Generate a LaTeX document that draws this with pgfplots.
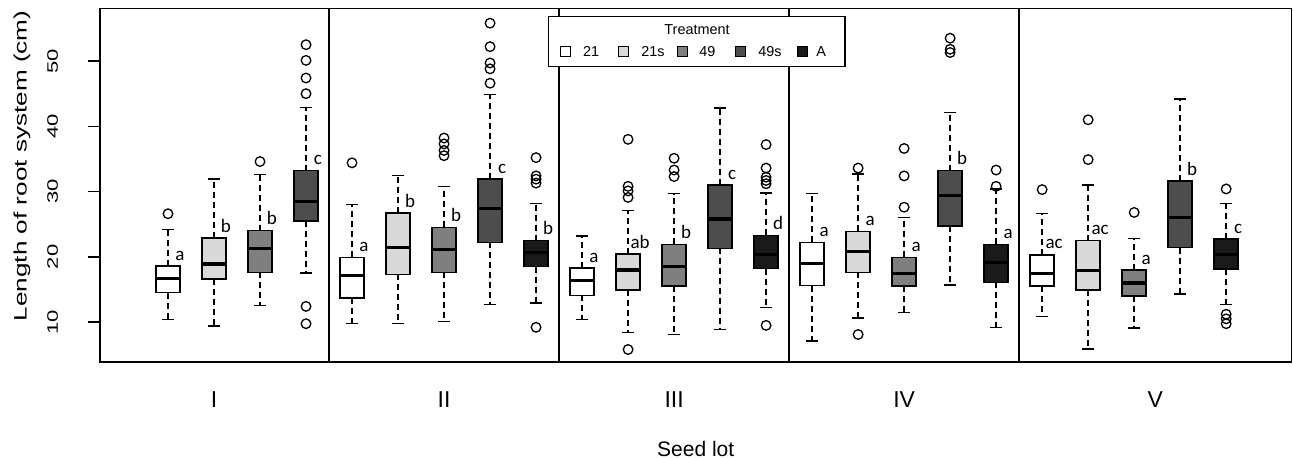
\documentclass[border=0pt]{standalone}
\usepackage{fontspec}
\setmainfont{Liberation Sans}
\newfontfamily\tickfont[FakeStretch=1.45]{Liberation Sans}
\newfontfamily\labfont[FakeStretch=1.45]{Liberation Sans}
\newfontfamily\letfont{Carlito}
\usepackage{pgfplots}
\pgfplotsset{compat=1.18}
\usepgfplotslibrary{statistics}

\definecolor{g21}{HTML}{FFFFFF}
\definecolor{g21s}{HTML}{D9D9D9}
\definecolor{g49}{HTML}{7F7F7F}
\definecolor{g49s}{HTML}{4D4D4D}
\definecolor{gA}{HTML}{1A1A1A}

\pgfplotsset{
  rbox/.style={
    draw=black, line width=0.75pt, solid,
    mark=o, mark size=2.4pt,
    mark options={draw=black, fill=none, line width=0.65pt, solid},
    boxplot/draw direction=y,
    boxplot/box extend=0.52,
    boxplot/whisker extend=0.25,
    boxplot/every median/.style={line width=1.7pt},
    boxplot/every whisker/.style={line width=0.7pt},
  },
  boxplot/draw/lower whisker/.code={
    \draw[/pgfplots/boxplot/every whisker/.try, dash pattern=on 3pt off 2pt]
      (boxplot box cs:\pgfplotsboxplotvalue{lower quartile},0.5) --
      (boxplot box cs:\pgfplotsboxplotvalue{lower whisker},0.5);
    \draw[/pgfplots/boxplot/every whisker/.try]
      (boxplot whisker cs:\pgfplotsboxplotvalue{lower whisker},0) --
      (boxplot whisker cs:\pgfplotsboxplotvalue{lower whisker},1);
  },
  boxplot/draw/upper whisker/.code={
    \draw[/pgfplots/boxplot/every whisker/.try, dash pattern=on 3pt off 2pt]
      (boxplot box cs:\pgfplotsboxplotvalue{upper quartile},0.5) --
      (boxplot box cs:\pgfplotsboxplotvalue{upper whisker},0.5);
    \draw[/pgfplots/boxplot/every whisker/.try]
      (boxplot whisker cs:\pgfplotsboxplotvalue{upper whisker},0) --
      (boxplot whisker cs:\pgfplotsboxplotvalue{upper whisker},1);
  },
}

% position, fill, lower whisker, Q1, median, Q3, upper whisker, outliers
\newcommand{\rbox}[8]{%
  \addplot[rbox, fill=#2, boxplot prepared={draw position=#1,
    lower whisker=#3, lower quartile=#4, median=#5,
    upper quartile=#6, upper whisker=#7}] coordinates {#8};
}
% group letter
\newcommand{\grp}[3]{%
  \node[font=\letfont\fontsize{9.5}{10}\selectfont, anchor=base, inner sep=0pt]
    at (axis cs:#1,#2) {#3};
}

\begin{document}
\begin{tikzpicture}
\useasboundingbox (0,0) rectangle (646.5pt,229.5pt);
\begin{axis}[
  at={(50pt,48.35pt)}, anchor=south west,
  scale only axis, width=595.75pt, height=176.9pt,
  xmin=-0.478, xmax=25.42, ymin=3.84, ymax=58.05,
  clip=false,
  axis line style={line width=0.8pt},
  xtick={2,7,12,17,22.46}, xticklabels={I,II,III,IV,V},
  ytick={10,20,30,40,50},
  tick pos=left,
  tick align=outside,
  major tick length=6pt,
  xtick style={draw=none},
  ytick style={line width=0.7pt, black},
  /pgf/number format/assume math mode=true,
  xticklabel style={font=\fontsize{11.5}{12}\selectfont, anchor=base, inner sep=0pt},
  xticklabel shift=16.85pt,
  yticklabel style={font=\tickfont\fontsize{7.6}{8}\selectfont, rotate=90, anchor=base, inner sep=0pt},
  yticklabel shift=15pt,
  xlabel={Seed lot},
  ylabel={Length of root system (cm)},
  xlabel style={font=\fontsize{10.5}{12}\selectfont, at={(axis description cs:0.5,0)},
    anchor=base, yshift=-46.9pt, inner sep=0pt},
  ylabel style={font=\labfont\fontsize{9}{10}\selectfont, at={(axis description cs:-0.0655,0.555)},
    anchor=center, inner sep=0pt},
]
% panel separators
\draw[line width=0.8pt] (axis cs:4.5,3.84) -- (axis cs:4.5,58.05);
\draw[line width=0.8pt] (axis cs:9.5,3.84) -- (axis cs:9.5,58.05);
\draw[line width=0.8pt] (axis cs:14.5,3.84) -- (axis cs:14.5,58.05);
\draw[line width=0.8pt] (axis cs:19.5,3.84) -- (axis cs:19.5,58.05);

% I
\rbox{1}{g21}{10.4}{14.5}{16.7}{18.6}{24.2}{(0,26.6)}
\rbox{2}{g21s}{9.4}{16.6}{18.9}{22.9}{31.9}{}
\rbox{3}{g49}{12.5}{17.6}{21.3}{24.0}{32.6}{(0,34.6)}
\rbox{4}{g49s}{17.5}{25.5}{28.5}{33.2}{42.9}{(0,52.5) (0,50.1) (0,47.4) (0,45.0) (0,12.4) (0,9.75)}
% II
\rbox{5}{g21}{9.75}{13.7}{17.1}{19.9}{28.0}{(0,34.4)}
\rbox{6}{g21s}{9.8}{17.3}{21.4}{26.7}{32.5}{}
\rbox{7}{g49}{10.05}{17.6}{21.1}{24.5}{30.8}{(0,38.2) (0,37.3) (0,36.3) (0,35.5)}
\rbox{8}{g49s}{12.7}{22.2}{27.4}{31.9}{44.9}{(0,55.8) (0,52.2) (0,49.7) (0,48.8) (0,46.6)}
\rbox{9}{gA}{12.9}{18.5}{20.7}{22.5}{28.2}{(0,35.2) (0,32.4) (0,31.9) (0,31.3) (0,9.2)}
% III
\rbox{10}{g21}{10.4}{14.1}{16.4}{18.3}{23.2}{}
\rbox{11}{g21s}{8.4}{14.9}{18.0}{20.4}{27.1}{(0,38.0) (0,30.8) (0,30.1) (0,29.1) (0,5.8)}
\rbox{12}{g49}{8.1}{15.5}{18.5}{21.9}{29.7}{(0,35.1) (0,33.3) (0,32.3)}
\rbox{13}{g49s}{8.9}{21.3}{25.8}{31.0}{42.8}{}
\rbox{14}{gA}{12.2}{18.2}{20.4}{23.3}{29.8}{(0,37.2) (0,33.6) (0,32.2) (0,31.7) (0,31.2) (0,9.5)}
% IV
\rbox{15}{g21}{7.1}{15.6}{19.0}{22.2}{29.7}{}
\rbox{16}{g21s}{10.6}{17.6}{20.8}{23.9}{32.7}{(0,33.6) (0,8.1)}
\rbox{17}{g49}{11.5}{15.5}{17.4}{19.9}{26.0}{(0,36.6) (0,32.4) (0,27.6)}
\rbox{18}{g49s}{15.7}{24.7}{29.4}{33.2}{42.1}{(0,53.5) (0,51.8) (0,51.3)}
\rbox{19}{gA}{9.2}{16.1}{19.1}{21.9}{30.4}{(0,33.3) (0,30.8)}
% V
\rbox{20}{g21}{10.9}{15.5}{17.4}{20.3}{26.6}{(0,30.3)}
\rbox{21}{g21s}{5.9}{14.9}{17.9}{22.5}{31.0}{(0,41.0) (0,34.9)}
\rbox{22}{g49}{9.1}{14.0}{16.0}{18.0}{22.8}{(0,26.8)}
\rbox{23}{g49s}{14.3}{21.4}{26.0}{31.6}{44.2}{}
\rbox{24}{gA}{12.7}{18.1}{20.4}{22.7}{28.2}{(0,30.4) (0,11.2) (0,10.5) (0,9.75)}

\grp{1.26}{19.5}{a}  \grp{2.26}{23.8}{b}  \grp{3.26}{24.9}{b}  \grp{4.26}{34.1}{c}
\grp{5.26}{20.8}{a}  \grp{6.26}{27.6}{b}  \grp{7.26}{25.4}{b}  \grp{8.26}{32.8}{c}  \grp{9.26}{23.4}{b}
\grp{10.26}{19.2}{a} \grp{11.26}{21.3}{ab} \grp{12.26}{22.8}{b} \grp{13.26}{31.9}{c} \grp{14.26}{24.2}{d}
\grp{15.26}{23.1}{a} \grp{16.26}{24.8}{a} \grp{17.26}{20.8}{a} \grp{18.26}{34.1}{b} \grp{19.26}{22.8}{a}
\grp{20.26}{21.2}{ac} \grp{21.26}{23.4}{ac} \grp{22.26}{18.9}{a} \grp{23.26}{32.5}{b} \grp{24.26}{23.6}{c}
\end{axis}

% legend (pixel coordinates of the reference, y downwards)
\begin{scope}[x=0.5pt, y=-0.5pt, yshift=229.5pt]
\draw[line width=0.7pt, fill=white] (548.3,16.7) rectangle (845,66.7);
\node[anchor=base, inner sep=0pt, font=\fontsize{7.2}{8}\selectfont] at (697,35) {Treatment};
\foreach \c/\xs/\xt/\t in {g21/565/582.7/21, g21s/623/641/21s, g49/682/699/49, g49s/740.5/758/49s, gA/802/816/A}{
  \draw[fill=\c, line width=0.5pt] (\xs-5,47) rectangle (\xs+5,57);
  \node[anchor=base west, inner sep=0pt, font=\fontsize{7.2}{8}\selectfont] at (\xt,57) {\t};
}
\end{scope}
\end{tikzpicture}
\end{document}
